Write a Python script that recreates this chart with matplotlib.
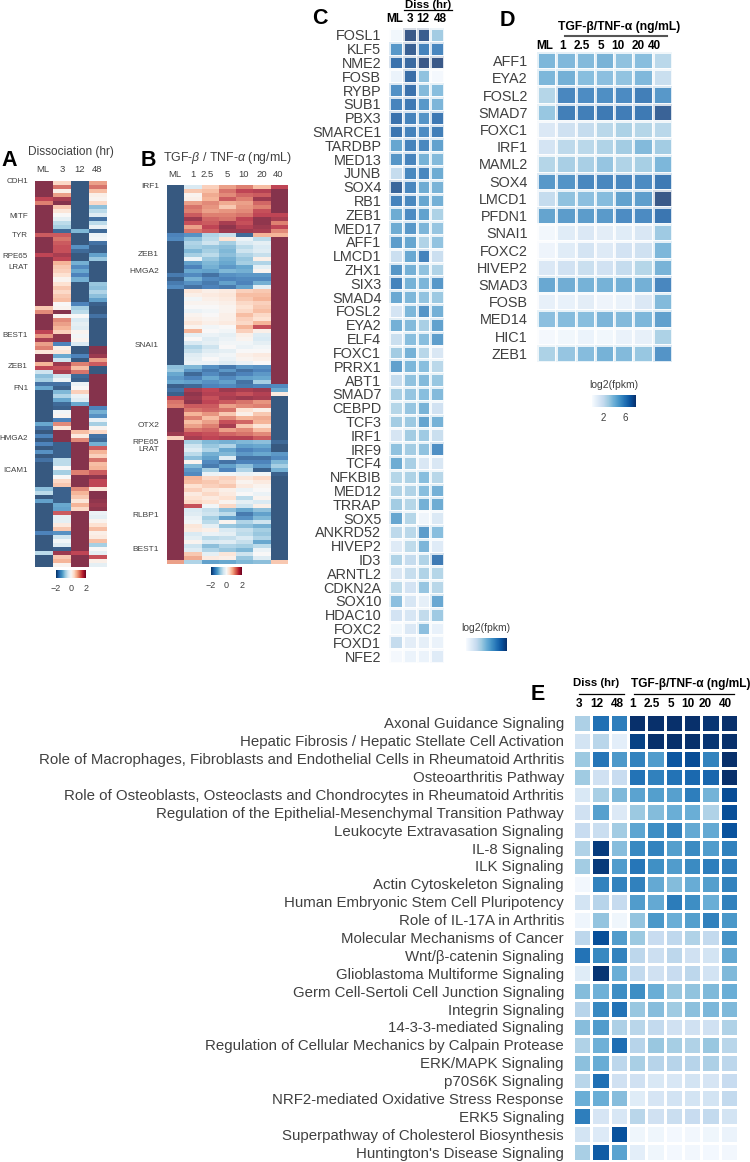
import numpy as np
import matplotlib
matplotlib.use("Agg")
import matplotlib.pyplot as plt
from matplotlib.cm import ScalarMappable
from matplotlib.colors import Normalize
from matplotlib.lines import Line2D

plt.rcParams["font.family"] = ["Liberation Sans", "DejaVu Sans"]
plt.rcParams["mathtext.fontset"] = "custom"
plt.rcParams["mathtext.it"] = "Liberation Sans:italic"
plt.rcParams["mathtext.rm"] = "Liberation Sans"

W, H = 750, 1162

# ---- panel A: z-scores, one list per column, top row first ----
a_cols = ["ML", "3", "12", "48"]
a_ml = [2.5, 2.5, 2.5, 2.5, 2.0, 1.5, 2.5, 2.5, 2.5, 2.5,
        2.5, 2.5, 2.5, 1.8, 2.5, 2.5, 2.5, 2.5, 2.0, 2.5,
        2.5, 2.5, 2.5, 2.5, 2.5, 2.5, 2.5, 2.5, 2.5, 2.5,
        2.5, 0.8, 1.4, 2.5, 2.5, 2.5, 2.5, 2.0, 1.3, 2.2,
        1.2, 1.5, 0.4, 2.5, 2.5, 1.0, 2.0, -0.6, -1.2, -1.0,
        -2.2, -1.5, -2.5, -2.5, -2.5, -2.5, -2.5, -2.5, -2.5, -2.5,
        -1.5, -2.2, -2.5, -2.0, -2.5, -2.0, -2.5, -1.8, -2.5, -2.2,
        -2.5, -2.5, -2.5, -2.5, -2.5, -2.5, -1.2, -0.8, -2.5, -1.6,
        -2.5, -2.5, -2.5, -2.5, -2.5, -2.5, -2.5, -2.0, -2.5, -2.5,
        -2.5, -2.5, -0.8, -2.5, -2.5, -2.5]
a_3 = [0.6, 1.6, 0.2, 1.2, 2.2, 2.5, 0.8, 0.4, 0.0, -0.3,
       -0.8, -1.0, -2.3, 1.8, 1.6, 1.8, 1.9, 1.9, 2.2, 2.0,
       1.0, 0.8, 0.7, 0.5, 0.1, 0.5, 0.8, 0.6, 0.8, 0.9,
       0.0, 0.1, 2.5, 0.1, 1.4, 1.2, 1.0, 0.7, 2.4, 2.4,
       -2.0, 0.2, 0.4, -1.5, -0.6, 2.3, 1.9, 2.2, -0.6, -0.2,
       -2.2, -2.4, -1.3, -0.9, -1.5, -2.3, -2.4, -0.1, 0.1, -2.0,
       1.4, 0.4, 2.5, 2.5, 2.5, -2.4, -2.4, -2.4, -2.4, -0.8,
       -0.8, 0.0, -1.0, 0.0, 0.6, 0.8, -2.4, -2.4, -2.4, -2.4,
       -1.5, -1.6, 1.8, -0.3, -0.3, 0.3, 0.8, -1.8, -0.6, -0.1,
       -0.4, -2.4, 2.3, 0.8, 1.0, 0.1]
a_12 = [-2.5, -2.5, -2.5, -2.5, -2.5, -2.5, -2.5, -2.5, -2.5, -2.5,
        -2.5, -2.5, -1.3, -2.5, -2.5, -2.5, -1.8, -2.3, -2.5, -2.5,
        -1.4, -1.9, -1.5, -2.0, -1.4, -2.5, -2.5, -2.5, -2.5, -2.5,
        -2.0, -1.0, -0.8, 0.0, -0.5, -0.3, -0.4, 0.1, -0.1, 0.1,
        -0.5, -2.5, -2.5, -2.0, -2.5, 1.5, 0.9, 1.6, -2.3, -2.4,
        -0.2, 0.0, 0.7, -0.2, -0.4, -1.5, 2.5, 2.5, 2.5, 2.5,
        2.5, 2.5, 0.9, 0.3, 1.4, 2.5, 2.5, 2.5, 2.5, 2.5,
        2.5, 2.5, 1.5, 2.5, 2.5, 2.5, 1.4, 1.0, 0.8, 0.4,
        1.0, 0.6, 2.5, 2.5, 2.5, 2.5, 2.5, 2.5, 2.5, 2.5,
        2.5, 2.5, 2.0, 2.5, 2.5, 2.5]
a_48 = [1.2, 1.6, 0.9, 0.2, 0.1, 0.6, -1.2, -0.8, -0.4, -2.2,
        -0.8, -0.2, -2.3, -0.2, -0.1, -2.2, -2.4, -2.4, -1.6, -1.1,
        -2.5, -2.5, -2.5, -2.5, -2.5, -1.1, -1.2, -0.9, -1.2, -1.6,
        -2.4, -2.5, -2.5, -2.2, -2.5, -2.5, -2.5, -2.5, -2.5, -2.5,
        -2.5, 2.5, 2.5, 2.3, 1.2, 1.8, -2.5, -2.5, 2.5, 2.5,
        2.5, 2.5, 2.5, 2.5, 2.5, 2.5, -2.0, -1.4, -1.8, -0.2,
        -1.0, 0.1, 0.6, -2.2, -2.3, -1.4, 1.8, 1.0, 0.7, 1.6,
        0.9, 1.0, 1.8, 2.4, 2.0, 2.0, 0.4, 2.5, 2.5, 2.4,
        2.3, 2.4, -0.2, -0.3, 0.1, 0.5, 0.9, 0.2, 0.3, 0.9,
        -1.0, 0.0, -0.3, 1.9, 0.2, -0.3]
a_genes = ["CDH1", "MITF", "TYR", "RPE65", "LRAT", "BEST1", "ZEB1", "FN1", "HMGA2", "ICAM1"]
a_gene_rows = [0.2, 8.8, 13.5, 18.8, 21.5, 38.5, 46.2, 51.5, 64, 72]

# ---- panel B ----
b_cols = ["ML", "1", "2.5", "5", "10", "20", "40"]
b_ml = [-2.5, -2.5, -2.5, -2.5, -2.5, -2.5, -2.5, -2.5, -2.5, -2.5,
        -2.5, -2.5, -2.0, -1.9, -2.5, -2.5, -2.5, -2.5, -2.5, -2.5,
        -2.5, -2.5, -2.1, -2.4, -2.1, -1.9, -2.5, -2.5, -2.5, -2.5,
        -2.5, -2.5, -2.5, -2.5, -2.5, -2.5, -2.5, -2.5, -2.5, -2.5,
        -2.5, -2.5, -2.5, -2.5, -2.5, -1.2, -1.1, -1.5, -1.7, -1.5,
        -2.4, -2.2, -2.4, 2.0, 1.6, 1.5, 2.5, 2.5, 2.5, 2.5,
        2.5, 2.5, 2.3, 0.7, 2.5, 2.5, 2.5, 2.5, 2.5, 2.5,
        2.5, 2.5, 2.5, 2.5, 2.5, 2.5, 2.5, 2.5, 2.5, 2.5,
        2.5, 2.5, 2.5, 2.5, 2.5, 2.5, 2.5, 2.5, 2.5, 2.5,
        2.5, 2.5, 2.5, 2.5, 1.2]
b_1 = [-0.5, 0.8, 0.1, 0.2, 1.2, 1.6, 1.5, 1.8, 2.3, 1.9, 1.2, 1.6,
       -1.8, -1.2, -0.9, -1.0, -1.3, -1.0, -0.2, -1.6, -2.0, -1.5, -1.9, -1.4, -1.8, -2.2,
       0.4, 0.2, -0.1, 0.1, 0.0, -0.2, 0.1, 0.2, 0.4, 0.1, 1.0, -0.3, 0.0, -0.5, -0.9, -0.7, -0.4, -0.3, -0.2,
       -1.3, -1.7, -2.3, -2.0, -1.6,
       -2.3, 2.2, 2.4, 2.3, 2.4, 1.8, 1.6, 1.0, 1.5, 0.9, 1.2, 1.6, 2.0, 2.2,
       -1.0, -0.6, -0.4, -0.8, -1.2, 0.1, -1.3, -1.7, -1.9, 1.0, 0.9, 0.5, 0.7, 0.3, 0.5, 0.6,
       1.9, -0.5, -0.4, -0.2, -0.1, 0.4, 0.3, -0.5, -0.3, 0.1, -0.6, -0.4, 0.8, 1.1, -0.9]
b_25 = [0.7, 0.9, 1.1, 1.0, 1.4, 1.3, 1.2, 1.5, 1.7, 1.8, 2.0, 1.8,
        -0.9, -0.8, -0.6, -1.1, -1.0, -0.8, -1.1, -1.3, -1.4, -1.6, -2.2, -1.9, -2.1, -2.0,
        0.2, 0.3, 0.2, 0.1, 0.0, -0.1, 0.0, 0.1, 0.2, -0.1, 0.0, -0.2, -0.4, -0.3, -0.6, -0.4, -0.2, 0.0, -0.2,
        -1.8, -2.1, -1.9, -1.5, -1.8,
        -2.0, 2.0, 2.1, 1.9, 2.0, 1.8, 1.7, 1.3, 0.9, 1.2, 1.5, 1.7, 1.9, 2.0,
        -1.3, -1.1, -0.9, -1.4, -1.6, -1.9, -2.1, -1.0, -0.2, 0.6, 0.8, 0.7, 0.4, 0.6, 0.3, 0.5,
        -0.1, -0.7, -0.6, -1.0, -0.8, -0.3, 0.2, -0.2, -0.8, -0.5, -1.2, -0.9, -0.3, 0.3, -1.6]
b_5 = [1.2, 1.6, 1.4, 1.8, 1.1, 0.8, 1.3, 1.5, 1.6, 2.2, 2.4, 2.3,
       -0.7, 0.5, -1.0, -1.2, -1.3, -1.2, -1.4, -1.5, -1.7, -1.3, -1.8, -2.0, -1.6, -2.1,
       0.3, 0.4, 0.3, 0.2, 0.1, 0.1, 0.2, 0.2, 0.3, 0.0, -0.1, -0.3, -0.2, -0.1, 0.0, -0.3, -0.1, -0.2, -0.4,
       -2.1, -1.7, -2.2, -1.9, -1.6,
       -1.9, 2.3, 2.1, 2.2, 1.8, 1.2, 1.6, 0.8, 1.4, 1.9, 2.2, 1.2, 1.7, 2.1,
       -1.4, -0.9, -1.5, -1.3, -0.4, -2.2, -1.6, -2.0, -0.1, 0.7, 0.6, 0.8, 0.2, 0.3, 0.5, 0.1,
       0.6, -1.2, -0.8, -1.6, 0.1, -1.1, -0.5, -0.3, -0.7, -0.4, -0.9, -1.1, 0.4, 0.2, -1.5]
b_10 = [1.5, 2.0, 1.7, 1.5, 1.2, 1.3, 1.4, 1.6, 2.0, 1.9, 2.1, 2.3,
        -2.3, -0.2, -0.5, -0.8, -0.6, -0.9, -1.1, -1.0, -1.5, -1.4, -1.7, -1.9, -2.0, -1.6,
        0.7, 0.9, 0.8, 0.6, 0.5, 0.6, 0.9, 0.7, 0.6, 1.0, 0.7, 0.2, 0.1, -0.1, -0.2, 0.0, 0.2, 0.1, -0.2,
        -1.7, -2.2, -2.0, -1.6, -2.2,
        -2.1, 2.2, 1.9, 2.3, 1.6, 1.4, 0.5, 0.2, 1.0, 1.7, 0.8, 1.4, 1.6, 2.1,
        -1.3, -1.6, -2.0, -1.7, -2.2, -2.0, -1.2, -0.9, -0.2, 0.4, 0.1, 0.3, -0.2, 0.0, -0.8, -0.3,
        -0.6, -1.5, -2.1, -1.8, -0.9, -1.2, -0.7, -0.8, -0.5, -0.7, -1.0, -1.3, -0.6, -1.1, -1.3]
b_20 = [0.9, 2.1, 1.8, 2.3, 1.7, 1.5, 1.9, 2.0, 2.4, 2.4, 2.3, 2.2,
        1.0, -0.8, -0.3, -0.5, -0.4, -0.7, 0.2, -0.9, -0.3, 0.1, -1.7, -1.9, -1.4, -0.3,
        0.8, 0.9, 1.0, 0.7, 0.8, 0.9, 0.6, 0.5, 1.0, 1.9, 0.2, -0.4, -0.5, -0.3, -0.1, 0.0, 0.3, 0.2, 0.0,
        -1.8, -2.0, -1.7, -1.5, -1.0,
        -2.0, 2.3, 2.1, 2.2, 1.3, 1.5, 0.2, 0.8, 1.1, 1.0, 0.4, 0.9, 1.4, 1.8,
        -1.2, -1.5, -1.8, -1.5, -2.2, -2.0, -1.7, -2.4, -0.1, 0.6, 0.3, 0.1, 0.0, -0.2, 0.1, -0.5,
        0.2, -1.2, -1.6, -1.3, -0.6, -1.4, -1.0, -1.1, -0.9, -1.5, -0.8, -0.2, 0.0, -0.4, -1.2]
b_40 = [2.0, 2.5, 2.5, 2.5, 2.5, 2.5, 2.5, 2.0, 2.2, 1.5,
        2.0, 1.4, 1.0, 2.5, 2.5, 2.5, 2.5, 2.5, 2.5, 2.5,
        2.5, 2.5, 2.5, 2.5, 2.5, 2.5, 2.5, 2.5, 2.5, 2.5,
        2.5, 2.5, 2.5, 2.5, 2.5, 2.5, 2.5, 2.5, 2.5, 2.5,
        2.5, 2.5, 2.5, 2.5, 2.5, 2.5, 2.5, 2.5, 2.5, 2.5,
        -1.9, -1.5, 0.3, -2.5, -2.5, -2.5, -2.5, -2.5, -2.5, -2.5,
        -2.5, -2.5, -2.5, -2.5, -2.3, -2.5, -2.5, -1.7, -1.9, -1.3,
        -1.0, -1.4, -2.4, -2.5, -2.5, -2.5, -2.5, -2.5, -2.5, -2.5,
        -2.5, -2.5, -2.5, -2.5, -2.5, -2.5, -2.5, -2.5, -2.5, -2.5,
        -2.5, -2.5, -2.5, -2.5, 0.8]
b_genes = ["IRF1", "ZEB1", "HMGA2", "SNAI1", "OTX2", "RPE65", "LRAT", "RLBP1", "BEST1"]
b_gene_rows = [0.5, 17.4, 21.6, 40.2, 60.2, 64.5, 66.2, 82.8, 91.3]

# ---- panel C: log2(fpkm) colour level 0-10 ----
c_cols = ["ML", "3", "12", "48"]
c_genes = ["FOSL1", "KLF5", "NME2", "FOSB", "RYBP", "SUB1", "PBX3", "SMARCE1", "TARDBP", "MED13",
           "JUNB", "SOX4", "RB1", "ZEB1", "MED17", "AFF1", "LMCD1", "ZHX1", "SIX3", "SMAD4",
           "FOSL2", "EYA2", "ELF4", "FOXC1", "PRRX1", "ABT1", "SMAD7", "CEBPD", "TCF3", "IRF1",
           "IRF9", "TCF4", "NFKBIB", "MED12", "TRRAP", "SOX5", "ANKRD52", "HIVEP2", "ID3", "ARNTL2",
           "CDKN2A", "SOX10", "HDAC10", "FOXC2", "FOXD1", "NFE2"]
c_ml = [0.5, 7, 8.8, 0.8, 7.3, 7.9, 8.8, 8.6, 6.3, 7.1, 3, 9.4, 8, 6, 6, 6.8, 2.7, 7.1, 8, 6.2,
        2.3, 5.8, 2.8, 4.2, 6.6, 3, 4, 3.6, 4.2, 2.2, 4.8, 6, 3.6, 3.8, 4.2, 6.3, 3.3, 1.7, 3.8, 2,
        3.2, 4.9, 2.4, 0.5, 3, 0.3]
c_3 = [10, 9.6, 9.2, 9, 8.8, 8.5, 8, 8, 8, 7.9, 7.7, 7.8, 7.7, 7.5, 7, 6.3, 6.2, 5.8, 5.7, 5.4,
       5.4, 5.2, 5, 5.7, 5.4, 4.8, 4.6, 4.6, 4.4, 4.2, 4.2, 4, 3.9, 3.8, 3.6, 3.6, 3.4, 3.2, 3, 2.9,
       2.4, 2.1, 2.1, 1.9, 1.4, 0.8]
c_12 = [9.8, 8, 10, 4.8, 5.2, 7, 7.2, 7.5, 7.7, 5.7, 7.8, 6, 6.3, 6.5, 5.5, 3.8, 8, 4.8, 5.5, 4.7,
        7.2, 4, 5, 3.5, 5, 5.2, 5, 5.6, 6.4, 4.3, 4.8, 2, 5, 5, 5.8, 0.6, 6.8, 5.5, 3.8, 3.8,
        4.6, 1.2, 3.1, 4.9, 1.2, 0.8]
c_48 = [4.2, 7.8, 10, 0.3, 5, 5.5, 8.5, 8.2, 6.5, 5.2, 6, 5.6, 5.8, 3.9, 4.6, 4.7, 2.7, 3.8, 7, 4.4,
        5.8, 6.5, 6.7, 2, 3.4, 4.5, 5.2, 2.5, 5.7, 2.8, 7.4, 2, 3.5, 5.8, 6, 1.8, 5, 1.6, 8.4, 3.6,
        3.5, 6.2, 4.3, 1, 0.9, 1.6]

# ---- panel D ----
d_cols = ["ML", "1", "2.5", "5", "10", "20", "40"]
d_genes = ["AFF1", "EYA2", "FOSL2", "SMAD7", "FOXC1", "IRF1", "MAML2", "SOX4", "LMCD1", "PFDN1",
           "SNAI1", "FOXC2", "HIVEP2", "SMAD3", "FOSB", "MED14", "HIC1", "ZEB1"]
d_ml = [5.4, 5.4, 3.6, 4.5, 1.9, 2.3, 3.6, 7, 3, 6.4, 0.4, 0.7, 1.9, 6.2, 1.1, 4.9, 0.3, 3.9]
d_1 = [5.3, 5.8, 7.8, 8.2, 2.6, 3.3, 4, 7.2, 4.8, 6.8, 1.5, 1.5, 2.5, 5.9, 1, 5.1, 0.5, 4.6]
d_25 = [5.2, 5, 7.5, 8.2, 3, 3.4, 4, 7.8, 4.9, 6.8, 1.9, 2.3, 2.8, 5.7, 1.4, 5, 0.8, 5.1]
d_5 = [5.6, 4.9, 7.4, 8.4, 3.4, 3.8, 4.6, 7.8, 5.1, 6.9, 1.4, 1.7, 2.5, 5.7, 0.7, 5.5, 0.5, 5.7]
d_10 = [4.8, 4.7, 7.6, 8.3, 3.9, 4.2, 3.8, 7.8, 6.5, 7.5, 1.5, 2.4, 3, 5.8, 0.9, 5.2, 0.9, 5.2]
d_20 = [5, 5.3, 8.2, 8.4, 3.6, 5.2, 4.1, 7.6, 6.7, 7.6, 2, 2.6, 3.6, 5.8, 1.9, 5.4, 1.1, 4.5]
d_40 = [3.4, 2.8, 7, 9.5, 3.4, 4.2, 5.4, 8.4, 10, 8.6, 4.3, 5.4, 5.6, 7.8, 5.2, 6.6, 3.9, 7.2]

# ---- panel E ----
e_cols = ["3", "12", "48", "1", "2.5", "5", "10", "20", "40"]
e_paths = ["Axonal Guidance Signaling",
           "Hepatic Fibrosis / Hepatic Stellate Cell Activation",
           "Role of Macrophages, Fibroblasts and Endothelial Cells in Rheumatoid Arthritis",
           "Osteoarthritis Pathway",
           "Role of Osteoblasts, Osteoclasts and Chondrocytes in Rheumatoid Arthritis",
           "Regulation of the Epithelial-Mesenchymal Transition Pathway",
           "Leukocyte Extravasation Signaling",
           "IL-8 Signaling",
           "ILK Signaling",
           "Actin Cytoskeleton Signaling",
           "Human Embryonic Stem Cell Pluripotency",
           "Role of IL-17A in Arthritis",
           "Molecular Mechanisms of Cancer",
           "Wnt/\u03b2-catenin Signaling",
           "Glioblastoma Multiforme Signaling",
           "Germ Cell-Sertoli Cell Junction Signaling",
           "Integrin Signaling",
           "14-3-3-mediated Signaling",
           "Regulation of Cellular Mechanics by Calpain Protease",
           "ERK/MAPK Signaling",
           "p70S6K Signaling",
           "NRF2-mediated Oxidative Stress Response",
           "ERK5 Signaling",
           "Superpathway of Cholesterol Biosynthesis",
           "Huntington's Disease Signaling"]
e_3 = [3.3, 1.8, 3.8, 3.7, 1.5, 2, 2.4, 3.2, 3.6, 0.3, 1.8, 0.5, 2.8, 7.4, 1.2, 4.4, 3, 4.3, 3.2, 4.2, 2.9, 5, 7, 1.8, 3.4]
e_12 = [7.5, 2.9, 7.3, 2, 3.4, 5.6, 2.3, 9.5, 9.6, 6.8, 3, 4, 8.8, 6.6, 9.8, 4.9, 6.6, 5.8, 4.9, 5.1, 7.5, 5, 1.7, 1.3, 8.3]
e_48 = [7, 1, 5.9, 2.4, 4.5, 1.4, 3.6, 4.3, 5.8, 6.8, 2.5, 0.4, 5.8, 6.8, 5, 6.4, 7.4, 3.3, 7.6, 2.8, 2, 4.3, 1.6, 8.7, 5.5]
e_1 = [10, 9.3, 6.8, 7.4, 5.5, 3.8, 5.4, 6.6, 7.3, 6.9, 5.8, 4, 3.8, 2.8, 2.6, 6.4, 3.9, 2.9, 3, 3.4, 2, 1.2, 2.9, 0.4, 1]
e_25 = [10, 10, 5.8, 6.9, 5.7, 4.4, 6.4, 6.8, 6.3, 5.2, 5.2, 6, 2.4, 2.2, 2, 5, 4.3, 2.6, 3.9, 3, 1.5, 1.7, 2, 0.4, 0.4]
e_5 = [10, 10, 8.5, 7.4, 5.6, 5, 6.9, 5.7, 5.8, 4.4, 7.1, 5, 2.7, 2.8, 2.4, 3.9, 3.7, 2, 3.5, 3, 1.6, 1.9, 2.3, 0.2, 0.2]
e_10 = [10, 10, 8.9, 7.8, 7, 5, 5.2, 6.5, 6.5, 5.1, 6.4, 5.7, 3.2, 2, 2.8, 4.1, 4.2, 2, 3.2, 3, 1.8, 1.8, 2.4, 0.3, 0.3]
e_20 = [9.8, 9.8, 6.8, 7.9, 4.8, 3.2, 5.2, 5.8, 7, 5.7, 5, 6.9, 2.6, 1.8, 1.9, 4.5, 4.6, 2, 3.9, 3.3, 1.7, 1.8, 2.6, 0.4, 0.2]
e_40 = [10, 10, 10, 10, 8.9, 8.8, 8.7, 6.9, 7, 6.8, 6.9, 6, 6.2, 5.2, 4.5, 5, 4.5, 3.2, 2.9, 2.8, 2.4, 2.6, 1.8, 0.6, 0.3]

GREY = "#404040"


def px(x, y):
    return x / W, 1 - y / H


def add_ax(x0, y0, x1, y1):
    ax = fig.add_axes([x0 / W, 1 - y1 / H, (x1 - x0) / W, (y1 - y0) / H])
    ax.set_xticks([])
    ax.set_yticks([])
    for s in ax.spines.values():
        s.set_visible(False)
    return ax


def put(x, y, s, size, ha="center", weight="normal", color=GREY):
    fig.text(*px(x, y), s, fontsize=size, ha=ha, va="center", fontweight=weight, color=color)


def hline(x0, x1, y, color="black", lw=0.9):
    fig.add_artist(Line2D([x0 / W, x1 / W], [1 - y / H, 1 - y / H], color=color, lw=lw))


def stripes(box, cols):
    ax = add_ax(*box)
    ax.imshow(np.array(cols).T, cmap="RdBu_r", vmin=-2.5, vmax=2.5, alpha=0.8,
              aspect="auto", interpolation="nearest")
    return ax


def tiles(box, cols, cmap_alpha):
    ax = add_ax(*box)
    data = np.array(cols).T
    ax.pcolormesh(data, cmap="Blues", vmin=0, vmax=10, alpha=cmap_alpha,
                  edgecolors="white", linewidth=1.0)
    ax.invert_yaxis()
    return ax


def bar(box, vmin, vmax, ticks, labels, size, cmap):
    cax = add_ax(*box)
    sm = ScalarMappable(Normalize(vmin, vmax), cmap)
    cb = fig.colorbar(sm, cax=cax, orientation="horizontal", ticks=ticks)
    cb.outline.set_visible(False)
    cb.ax.tick_params(length=0, pad=4, labelsize=size, labelcolor=GREY)
    cb.ax.set_xticklabels(labels)
    return cb


fig = plt.figure(figsize=(W / 100, H / 100), dpi=100)

# panel A
box_a = (35, 181, 107, 567)
stripes(box_a, [a_ml, a_3, a_12, a_48])
for g, r in zip(a_genes, a_gene_rows):
    put(28, 181 + r * 386 / 96, g, 5.8, ha="right")
for lab, x in zip(a_cols, [43, 62, 80, 97]):
    put(x, 169, lab, 6.8)
put(70.5, 152, "Dissociation (hr)", 8.6)
bar((56, 570, 86, 578), -2, 2, [-2, 0, 2], ["\u22122", "0", "2"], 6.5, "RdBu_r")

# panel B
box_b = (167, 185, 287, 564)
stripes(box_b, [b_ml, b_1, b_25, b_5, b_10, b_20, b_40])
for g, r in zip(b_genes, b_gene_rows):
    put(159, 185 + r * 379 / 95, g, 6.0, ha="right")
for lab, x in zip(b_cols, [175, 193, 207, 227, 244, 262, 278]):
    put(x, 174, lab, 6.8)
put(227, 158, "TGF-$\\beta$ / TNF-$\\alpha$ (ng/mL)", 8.9)
bar((211, 567, 242, 575), -2, 2, [-2, 0, 2], ["\u22122", "0", "2"], 6.5, "RdBu_r")

# panel C
ax_c = tiles((389, 28, 444, 663), [c_ml, c_3, c_12, c_48], 0.8)
ax_c.set_yticks(np.arange(len(c_genes)) + 0.5, c_genes, fontsize=10.4, color=GREY)
ax_c.tick_params(length=0, pad=5.5)
for lab, x in zip(c_cols, [395, 410, 423, 440]):
    put(x, 19, lab, 8.5, weight="bold", color="black")
put(428, 5, "Diss (hr)", 8.2, weight="bold", color="black")
hline(404, 452, 9.5)
put(486, 628, "log2(fpkm)", 7.5, color=GREY)
cb_c = bar((466, 638, 507, 651), 0, 10, [], [], 6, "Blues")

# panel D
ax_d = tiles((537, 52, 672, 362), [d_ml, d_1, d_25, d_5, d_10, d_20, d_40], 0.8)
ax_d.set_yticks(np.arange(len(d_genes)) + 0.5, d_genes, fontsize=10.4, color=GREY)
ax_d.tick_params(length=0, pad=6.5)
for lab, x in zip(d_cols, [545, 563, 582, 601, 618, 638, 654]):
    put(x, 46, lab, 8.5, weight="bold", color="black")
put(619, 27, "TGF-\u03b2/TNF-\u03b1 (ng/mL)", 8.7, weight="bold", color="black")
hline(565, 667, 36, color="#555555", lw=1.5)
put(614, 385, "log2(fpkm)", 7.5)
bar((592, 395, 636, 407), 0, 8, [2, 6], ["2", "6"], 7, "Blues")

# panel E
ax_e = tiles((573, 714, 738, 1161),
             [e_3, e_12, e_48, e_1, e_25, e_5, e_10, e_20, e_40], 1.0)
ax_e.set_yticks(np.arange(len(e_paths)) + 0.5, e_paths, fontsize=10.8, color=GREY)
ax_e.tick_params(length=0, pad=6.5)
for lab, x in zip(e_cols, [579, 597, 617, 633, 652, 671, 688, 705, 725]):
    put(x, 704, lab, 8.5, weight="bold", color="black")
put(596, 683, "Diss (hr)", 8.2, weight="bold", color="black")
put(690.5, 684, "TGF-\u03b2/TNF-\u03b1 (ng/mL)", 8.6, weight="bold", color="black")
hline(579, 624, 694)
hline(634, 734, 694)

# panel letters
for letter, x, y in [("A", 9, 160), ("B", 148, 161), ("C", 320, 19), ("D", 507, 21), ("E", 538, 694)]:
    put(x, y, letter, 15.5, weight="bold", color="black")

fig.savefig("out.png", dpi=100)
